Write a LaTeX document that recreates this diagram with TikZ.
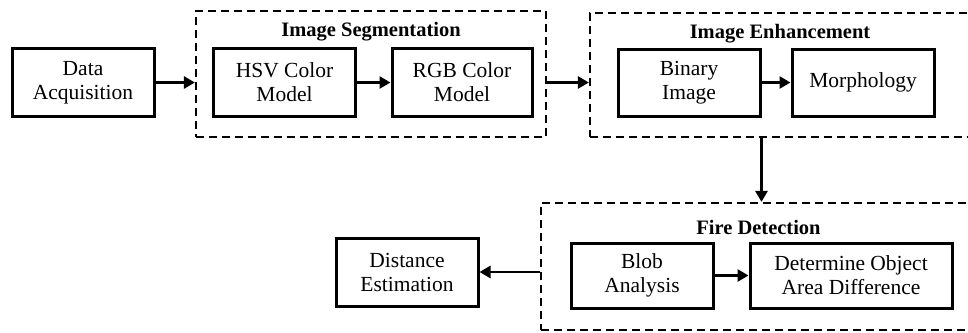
\documentclass[tikz,border=0pt]{standalone}
\usepackage{fontspec}
\setmainfont{Liberation Serif}
\usetikzlibrary{arrows.meta}
\tikzset{
  x=1pt,y=-1pt,
  procbox/.style={draw=black,line width=3pt,rectangle,inner sep=0pt,align=center,
    minimum width=142pt,minimum height=68pt,font=\fontsize{21.5}{24}\selectfont},
  groupbox/.style={draw=black,line width=2.2pt,dash pattern=on 8pt off 5pt,rectangle,inner sep=0pt},
  grouptitle/.style={inner sep=0pt,font=\fontsize{20.5}{24}\selectfont\bfseries},
  arr/.style={line width=2.8pt,-{Triangle[length=11pt,width=12pt]}},
}
\begin{document}
\begin{tikzpicture}
\clip (0,0) rectangle (968,332);
\fill[white] (0,0) rectangle (968,332);
% groups
\node[groupbox,minimum width=350pt,minimum height=126pt] (seg) at (371,74) {};
\node[groupbox,minimum width=380pt,minimum height=124pt] (enh) at (780,75) {};
\node[groupbox,minimum width=435pt,minimum height=127pt] (fire) at (758.5,266.5) {};
\node[grouptitle] (segt) at (371,32) {Image Segmentation};
\node[grouptitle] (enht) at (780,34) {Image Enhancement};
\node[grouptitle] (firet) at (758.5,227) {Fire Detection};
% process boxes
\node[procbox] (data) at (83,82.5) {Data\\Acquisition};
\node[procbox] (hsv) at (284.5,82.5) {HSV Color\\Model};
\node[procbox,minimum width=140pt] (rgb) at (462,82.5) {RGB Color\\Model};
\node[procbox,minimum height=67pt] (bin) at (689,82.5) {Binary\\Image};
\node[procbox,minimum height=67pt] (morph) at (863,82.5) {Morphology};
\node[procbox,minimum height=65pt] (blob) at (642,275.5) {Blob\\Analysis};
\node[procbox,minimum width=202pt,minimum height=65pt] (det) at (851,275.5) {Determine Object\\Area Difference};
\node[procbox] (dist) at (407,272) {Distance\\Estimation};
% connectors
\draw[arr] (data.east) -- (data.east -| seg.west);
\draw[arr] (hsv.east) -- (rgb.west);
\draw[arr] (seg.east |- rgb.east) -- (enh.west |- rgb.east);
\draw[arr] (bin.east) -- (morph.west);
\draw[arr] (bin.east |- enh.south) -- (bin.east |- fire.north);
\draw[arr] (blob.east) -- (det.west);
\draw[arr] (fire.west |- dist.east) -- (dist.east);
\end{tikzpicture}
\end{document}
